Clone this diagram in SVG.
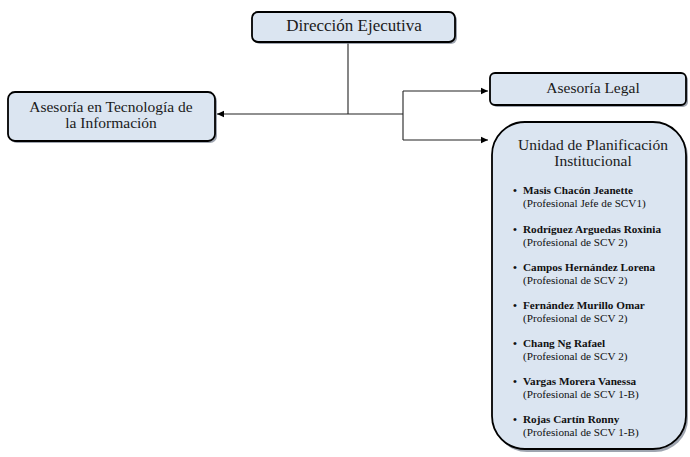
<svg xmlns="http://www.w3.org/2000/svg" width="690" height="457" viewBox="0 0 690 457">
<defs>
<style>
.box{fill:#dbe5f1;stroke:#000;stroke-width:1.8}
.sh{fill:#7f8796;opacity:0.75}
.t{font-family:"Liberation Serif","Times New Roman",serif;font-size:15.5px;fill:#1a1a1a;text-anchor:middle}
.n{font-family:"Liberation Serif","Times New Roman",serif;font-size:11.2px;font-weight:bold;fill:#111}
.s{font-family:"Liberation Serif","Times New Roman",serif;font-size:11.2px;fill:#111}
.c{fill:none;stroke:#222;stroke-width:1.1}
</style>
<marker id="ah" markerWidth="8" markerHeight="8" refX="7" refY="4" orient="auto" markerUnits="userSpaceOnUse">
<path d="M0,0.8 L7,4 L0,7.2 Z" fill="#000"/>
</marker>
</defs>
<rect width="690" height="457" fill="#fff"/>
<g id="connectors">
<path class="c" d="M348,42 V114"/>
<path class="c" d="M403,114 H217" marker-end="url(#ah)"/>
<path class="c" d="M403,91 V140"/>
<path class="c" d="M403,91 H488" marker-end="url(#ah)"/>
<path class="c" d="M403,140 H488" marker-end="url(#ah)"/>
</g>
<g id="direccion">
<rect class="sh" x="254" y="14" width="203" height="30" rx="6"/>
<rect class="box" x="252" y="12" width="203" height="30" rx="6"/>
<text class="t" x="354" y="31" style="font-size:17px">Dirección Ejecutiva</text>
</g>
<g id="asesoria-ti">
<rect class="sh" x="10" y="94" width="207" height="49" rx="7"/>
<rect class="box" x="8" y="92" width="207" height="49" rx="7"/>
<text class="t" x="111" y="112">Asesoría en Tecnología de</text>
<text class="t" x="111" y="128">la Información</text>
</g>
<g id="asesoria-legal">
<rect class="sh" x="492" y="75" width="196" height="32" rx="5"/>
<rect class="box" x="490" y="73" width="196" height="32" rx="5"/>
<text class="t" x="593" y="93">Asesoría Legal</text>
</g>
<g id="unidad">
<rect class="sh" x="494" y="124" width="194" height="328" rx="33"/>
<rect class="box" x="492" y="122" width="194" height="327" rx="33"/>
<text class="t" x="593" y="150">Unidad de Planificación</text>
<text class="t" x="593" y="166">Institucional</text>
<g class="n">
<text x="513" y="194">•</text><text x="523" y="194">Masis Chacón Jeanette</text>
<text x="513" y="233">•</text><text x="523" y="233">Rodríguez Arguedas Roxinia</text>
<text x="513" y="271">•</text><text x="523" y="271">Campos Hernández Lorena</text>
<text x="513" y="309">•</text><text x="523" y="309">Fernández Murillo Omar</text>
<text x="513" y="347">•</text><text x="523" y="347">Chang Ng Rafael</text>
<text x="513" y="385">•</text><text x="523" y="385">Vargas Morera Vanessa</text>
<text x="513" y="423">•</text><text x="523" y="423">Rojas Cartín Ronny</text>
</g>
<g class="s">
<text x="523" y="207">(Profesional Jefe de SCV1)</text>
<text x="523" y="246">(Profesional de SCV 2)</text>
<text x="523" y="284">(Profesional de SCV 2)</text>
<text x="523" y="322">(Profesional de SCV 2)</text>
<text x="523" y="360">(Profesional de SCV 2)</text>
<text x="523" y="398">(Profesional de SCV 1-B)</text>
<text x="523" y="436">(Profesional de SCV 1-B)</text>
</g>
</g>
</svg>
